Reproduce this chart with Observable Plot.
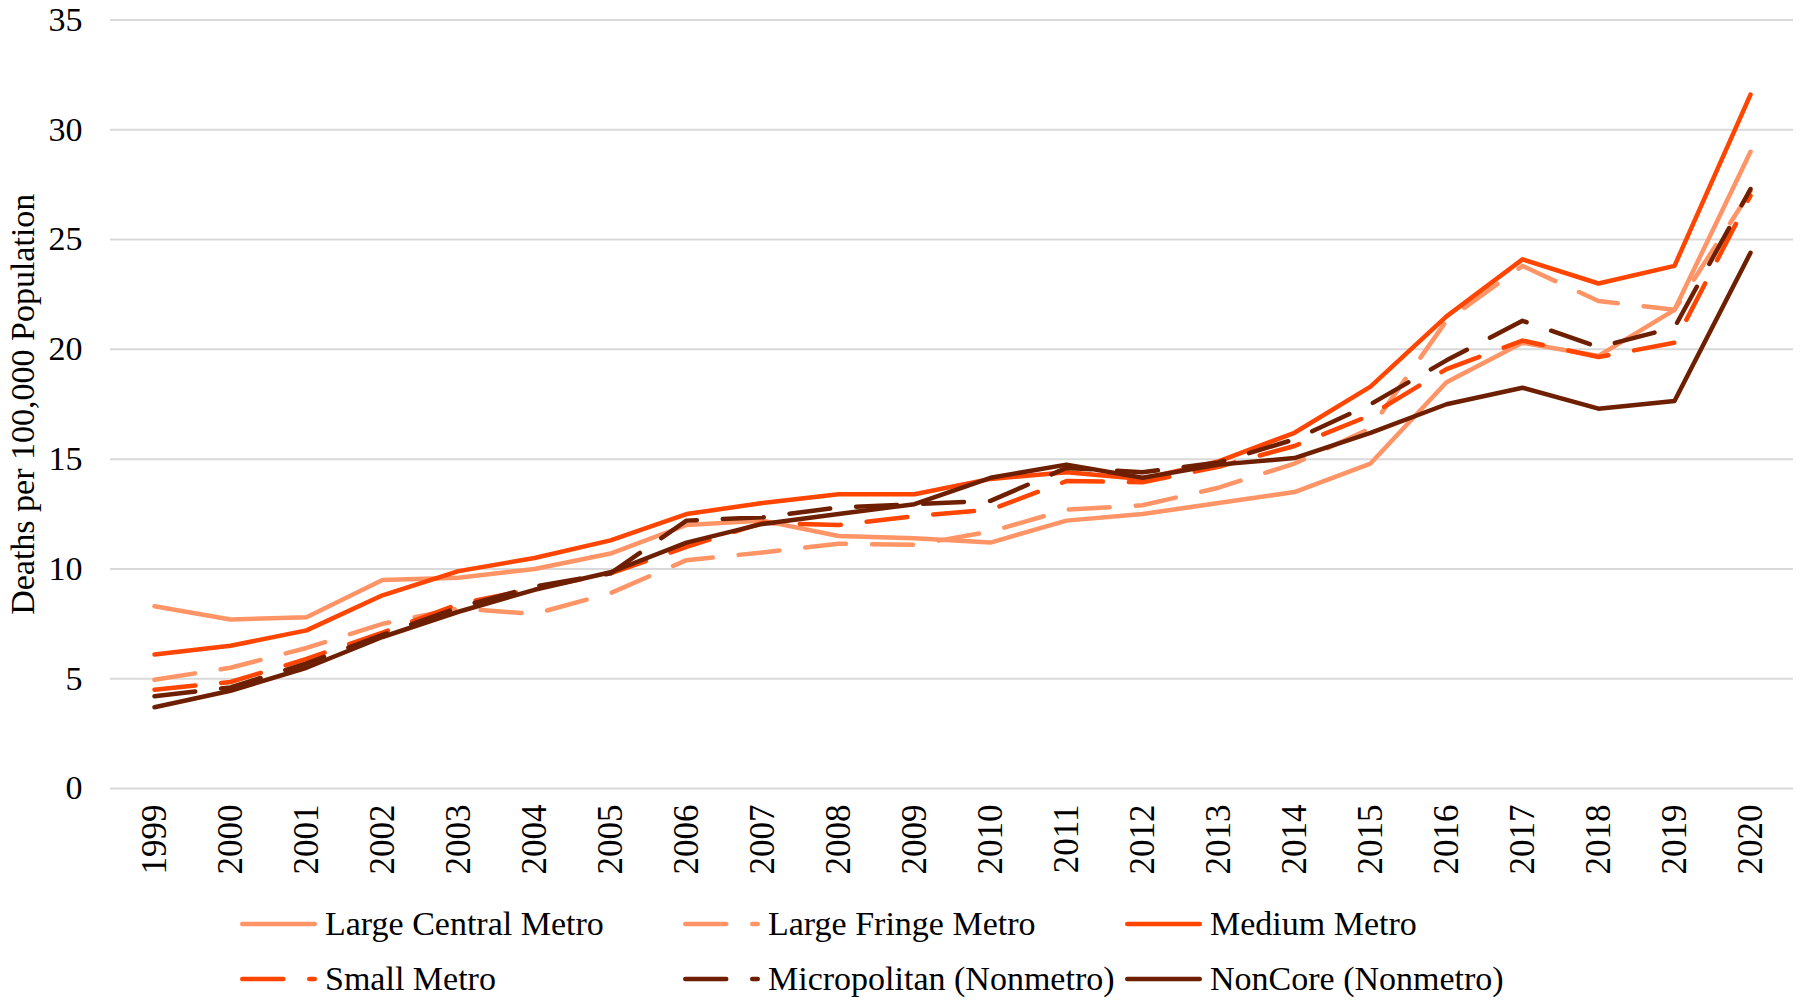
<!DOCTYPE html>
<html>
<head>
<meta charset="utf-8">
<script src="https://cdn.jsdelivr.net/npm/d3@7"></script>
<script src="https://cdn.jsdelivr.net/npm/@observablehq/plot@0.6"></script>
<style>
  html, body { margin: 0; padding: 0; background: #fff; }
  #wrap { width: 1800px; height: 1004px; position: relative; overflow: hidden; font-family: "Liberation Serif", "Times New Roman", serif; }
  #legend { position: relative; width: 1800px; height: 114px; }
  .item { position: absolute; height: 40px; display: flex; align-items: center; }
  .item svg { display: block; }
  .item span { font-size: 34px; line-height: 40px; color: #000; margin-left: 8px; white-space: nowrap; }
</style>
</head>
<body>
<div id="wrap"><div id="chart"></div><div id="legend"></div></div>
<script>
// ---- data ----
const years = [1999, 2000, 2001, 2002, 2003, 2004, 2005, 2006, 2007, 2008, 2009, 2010,
               2011, 2012, 2013, 2014, 2015, 2016, 2017, 2018, 2019, 2020];
const seriesNames = ["Large Central Metro", "Large Fringe Metro", "Medium Metro",
                     "Small Metro", "Micropolitan (Nonmetro)", "NonCore (Nonmetro)"];
const largeCentral = [8.3, 7.7, 7.8, 9.5, 9.6, 10.0, 10.7, 12.0, 12.2, 11.5, 11.4, 11.2,
                      12.2, 12.5, 13.0, 13.5, 14.8, 18.5, 20.3, 19.7, 21.8, 29.0];
const largeFringe  = [4.95, 5.5, 6.4, 7.5, 8.2, 7.95, 8.9, 10.4, 10.75, 11.15, 11.1, 11.7,
                      12.7, 12.9, 13.7, 14.8, 16.4, 21.3, 23.8, 22.2, 21.8, 27.2];
const mediumMetro  = [6.1, 6.5, 7.2, 8.8, 9.9, 10.5, 11.3, 12.5, 13.0, 13.4, 13.4, 14.1,
                      14.4, 14.1, 14.9, 16.2, 18.3, 21.5, 24.1, 23.0, 23.8, 31.6];
const smallMetro   = [4.5, 4.85, 5.9, 7.1, 8.4, 9.1, 9.8, 11.0, 12.1, 12.0, 12.4, 12.7,
                      14.0, 13.95, 14.65, 15.6, 17.0, 19.1, 20.4, 19.65, 20.3, 27.0];
const micropolitan = [4.2, 4.6, 5.7, 7.0, 8.25, 9.2, 9.8, 12.2, 12.35, 12.8, 12.95, 13.1,
                      14.6, 14.4, 14.85, 15.9, 17.5, 19.5, 21.3, 20.1, 21.0, 27.3];
const nonCore      = [3.7, 4.45, 5.5, 6.9, 8.05, 9.05, 9.85, 11.2, 12.05, 12.5, 12.95, 14.15,
                      14.75, 14.15, 14.75, 15.05, 16.2, 17.5, 18.25, 17.3, 17.65, 24.4];
const yTicks = [0, 5, 10, 15, 20, 25, 30, 35];
const yLabel = "Deaths per 100,000 Population";

// ---- styles (separate from data) ----
const LIGHT = "#ff9466", MID = "#ff4500", DARK = "#6e1f00";
const styles = [
  {color: LIGHT, dash: null},
  {color: LIGHT, dash: "41,26"},
  {color: MID,   dash: null},
  {color: MID,   dash: "41,26"},
  {color: DARK,  dash: "41,26"},
  {color: DARK,  dash: null}
];
const allValues = [largeCentral, largeFringe, mediumMetro, smallMetro, micropolitan, nonCore];

const FONT = "Liberation Serif, Times New Roman, serif";

const lineMarks = allValues.map((vals, i) => {
  const rows = years.map((y, j) => ({year: y, value: vals[j], series: seriesNames[i]}));
  return Plot.line(rows, {
    x: "year", y: "value",
    stroke: styles[i].color,
    strokeWidth: 4.5,
    strokeLinecap: "round",
    strokeLinejoin: "round",
    strokeDasharray: styles[i].dash || undefined
  });
});

const chart = Plot.plot({
  width: 1800,
  height: 890,
  marginLeft: 110,
  marginRight: 7,
  marginTop: 19.5,
  marginBottom: 102,
  style: {fontFamily: FONT, fontSize: "34px", color: "#000", background: "#fff", overflow: "visible"},
  x: {type: "point", domain: years, padding: 0.5, axis: null},
  y: {domain: [0, 35], axis: null},
  marks: [
    Plot.ruleY(yTicks, {stroke: "#d9d9d9", strokeWidth: 2}),
    Plot.axisY({ticks: yTicks, tickSize: 0, tickPadding: 28, fontSize: 34, fontFamily: FONT, label: null}),
    Plot.axisX({tickSize: 0, tickPadding: 16, tickRotate: -90, fontSize: 35, fontFamily: FONT,
                tickFormat: d => String(d), label: null}),
    Plot.text([yLabel], {frameAnchor: "left", rotate: -90, dx: -87, textAnchor: "middle",
                         lineAnchor: "middle", fontSize: 34, fontFamily: FONT,
                         fill: "#000", text: d => d}),
    ...lineMarks
  ]
});
document.getElementById("chart").appendChild(chart);

// ---- legend ----
const legend = document.getElementById("legend");
const legendPos = [
  {sx: 240, row: 0}, {sx: 683, row: 0}, {sx: 1125, row: 0},
  {sx: 240, row: 1}, {sx: 683, row: 1}, {sx: 1125, row: 1}
];
const rowCenters = [34, 89];
seriesNames.forEach((name, i) => {
  const p = legendPos[i];
  const div = document.createElement("div");
  div.className = "item";
  div.style.left = p.sx + "px";
  div.style.top = (rowCenters[p.row] - 20) + "px";
  const ns = "http://www.w3.org/2000/svg";
  const svg = document.createElementNS(ns, "svg");
  svg.setAttribute("width", 77);
  svg.setAttribute("height", 12);
  const ln = document.createElementNS(ns, "line");
  ln.setAttribute("x1", 2.25); ln.setAttribute("x2", 74.75);
  ln.setAttribute("y1", 6); ln.setAttribute("y2", 6);
  ln.setAttribute("stroke", styles[i].color);
  ln.setAttribute("stroke-width", 4.5);
  ln.setAttribute("stroke-linecap", "round");
  if (styles[i].dash) ln.setAttribute("stroke-dasharray", styles[i].dash);
  svg.appendChild(ln);
  div.appendChild(svg);
  const span = document.createElement("span");
  span.textContent = name;
  div.appendChild(span);
  legend.appendChild(div);
});
</script>
</body>
</html>
